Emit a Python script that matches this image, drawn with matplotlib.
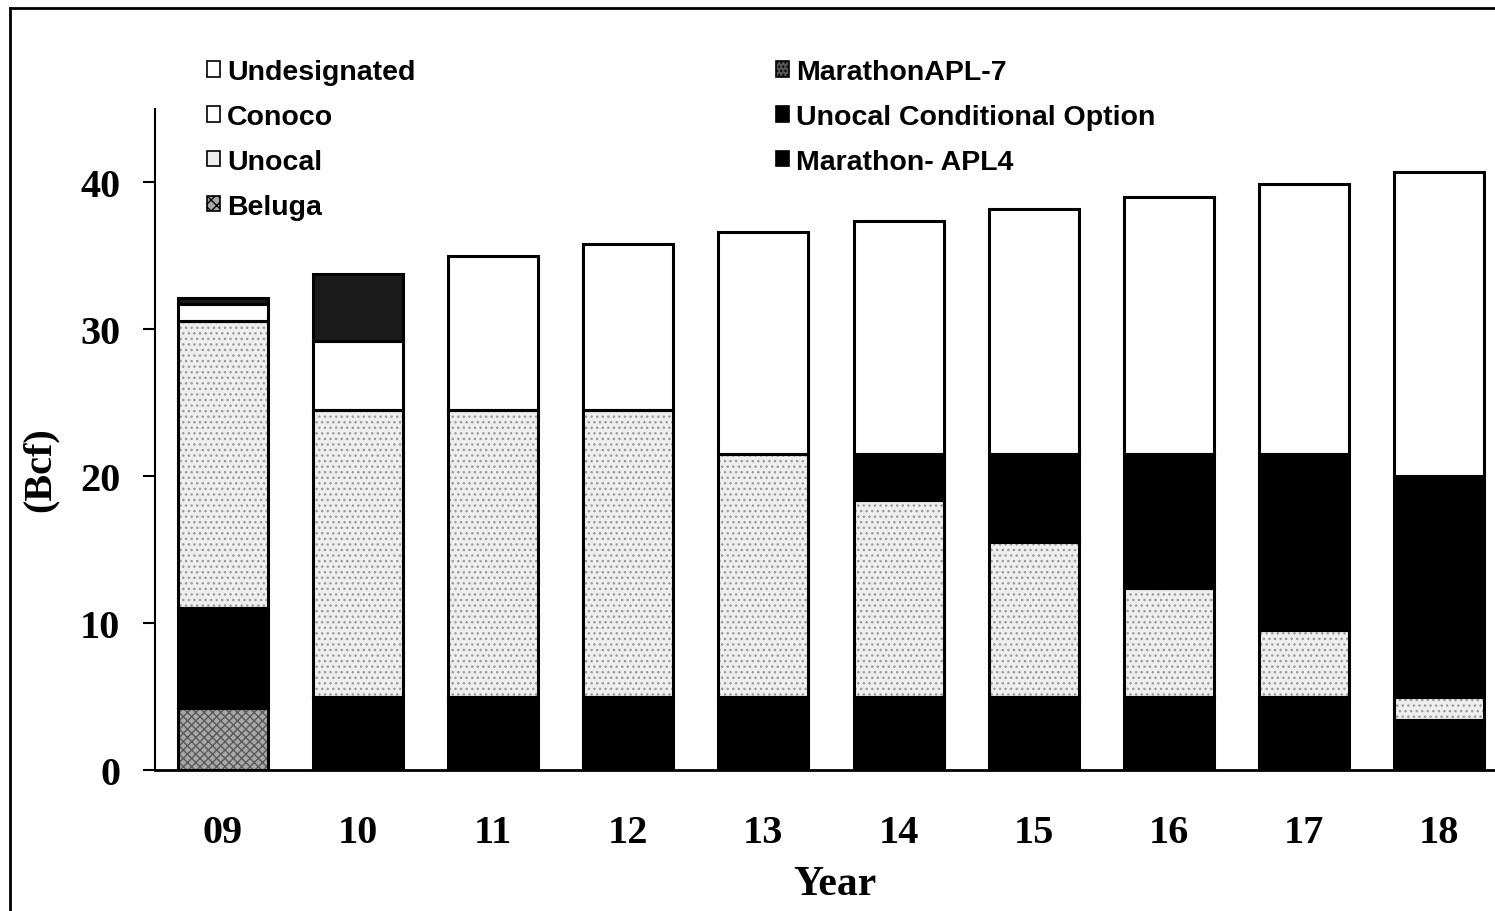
import matplotlib
matplotlib.use("Agg")
import matplotlib.pyplot as plt
import numpy as np
from matplotlib.patches import Patch
from matplotlib.lines import Line2D

years = ['09', '10', '11', '12', '13', '14', '15', '16', '17', '18']
beluga = [4.2, 0, 0, 0, 0, 0, 0, 0, 0, 0]
marathon_apl4 = [6.8, 5.0, 5.0, 5.0, 5.0, 5.0, 5.0, 5.0, 5.0, 3.4]
unocal = [19.6, 19.5, 19.5, 19.5, 16.5, 13.4, 10.5, 7.4, 4.5, 1.6]
unocal_cond = [0, 0, 0, 0, 0, 3.1, 6.0, 9.1, 12.0, 15.0]
conoco = [1.1, 4.7, 0, 0, 0, 0, 0, 0, 0, 0]
marathon_apl7 = [0.45, 4.6, 0, 0, 0, 0, 0, 0, 0, 0]
undesignated = [0, 0, 10.5, 11.3, 15.1, 15.9, 16.7, 17.5, 18.4, 20.7]

series = [
    ('Beluga', beluga, '#a8a8a8', 'xxxx', '#5a5a5a'),
    ('Marathon- APL4', marathon_apl4, '#000000', None, None),
    ('Unocal', unocal, '#eeeeee', '...', '#9a9a9a'),
    ('Unocal Conditional Option', unocal_cond, '#000000', None, None),
    ('Conoco', conoco, '#ffffff', None, None),
    ('MarathonAPL-7', marathon_apl7, '#1a1a1a', None, None),
    ('Undesignated', undesignated, '#ffffff', None, None),
]

fig = plt.figure(figsize=(14.95, 9.12), dpi=100)
ax = fig.add_axes([155/1495, 1 - 771/912, (1495-155)/1495, (771-110)/912])

x = np.arange(len(years))
width = 0.665
bottom = np.zeros(len(years))
for name, vals, fc, hatch, hc in series:
    v = np.array(vals, dtype=float)
    m = v > 0
    if hatch:
        ax.bar(x[m], v[m], width, bottom=bottom[m], color=fc, hatch=hatch,
               edgecolor=hc, linewidth=0, zorder=2)
    else:
        ax.bar(x[m], v[m], width, bottom=bottom[m], color=fc, linewidth=0, zorder=2)
    ax.bar(x[m], v[m], width, bottom=bottom[m], fill=False,
           edgecolor='black', linewidth=2.2, zorder=3)
    bottom += v

ax.set_xlim(-0.5, -0.5 + 1340/135.2)
ax.set_ylim(0, 45)
ax.set_yticks([0, 10, 20, 30, 40])
ax.set_xticks(x)
ax.set_xticklabels(years)
ax.spines['top'].set_visible(False)
ax.spines['right'].set_visible(False)
ax.spines['left'].set_linewidth(1.5)
ax.spines['bottom'].set_linewidth(2)
ax.tick_params(axis='x', length=0, pad=32)
ax.tick_params(axis='y', direction='out', length=9, width=1.5, pad=16)
for lab in ax.get_xticklabels() + ax.get_yticklabels():
    lab.set_fontfamily('Liberation Serif')
    lab.set_fontweight('bold')
    lab.set_fontsize(29)

fig.text(835/1495, 1 - 885/912, 'Year', ha='center', va='center',
         fontfamily='Liberation Serif', fontweight='bold', fontsize=30)
fig.text(40/1495, 1 - 470/912, '(Bcf)', ha='center', va='center', rotation=90,
         fontfamily='Liberation Serif', fontweight='bold', fontsize=29)

def handle(fc, hatch=None):
    return Patch(facecolor=fc, edgecolor='black', linewidth=1.2, hatch=hatch)

leg1_items = [('Undesignated', '#ffffff', None), ('Conoco', '#ffffff', None),
              ('Unocal', '#eeeeee', None), ('Beluga', '#a8a8a8', 'xxx')]
leg2_items = [('MarathonAPL-7', '#555555', '....'), ('Unocal Conditional Option', '#000000', None),
              ('Marathon- APL4', '#000000', None)]

legkw = dict(frameon=False, borderpad=0, handlelength=0.45, handleheight=0.45,
             handletextpad=0.25, labelspacing=0.66,
             prop={'family': 'Liberation Sans', 'weight': 'bold', 'size': 20.5})
l1 = fig.legend([handle(c, h) for _, c, h in leg1_items], [n for n, _, _ in leg1_items],
                loc='upper left', bbox_to_anchor=(193/1495, 1 - 46/912), **legkw)
l2 = fig.legend([handle(c, h) for _, c, h in leg2_items], [n for n, _, _ in leg2_items],
                loc='upper left', bbox_to_anchor=(762/1495, 1 - 46/912), **legkw)

# outer frame (top and left edges visible)
fig.add_artist(Line2D([10/1495, 1.0], [1 - 9/912, 1 - 9/912], color='black', linewidth=2,
                      transform=fig.transFigure))
fig.add_artist(Line2D([10/1495, 10/1495], [0, 1 - 9/912], color='black', linewidth=2,
                      transform=fig.transFigure))

fig.savefig('out.png', dpi=100)
